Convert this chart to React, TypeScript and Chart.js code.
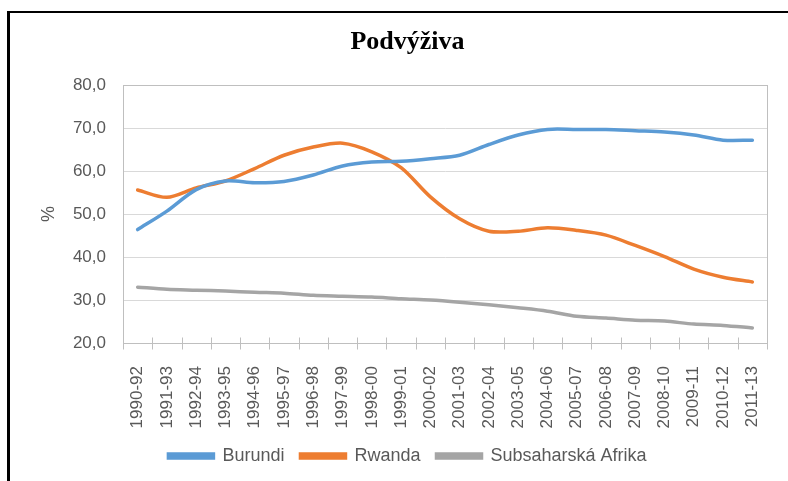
import React, { useEffect, useRef } from "react";
import { Chart, registerables } from "chart.js";

Chart.register(...registerables);

const chartTitle = "Podvýživa";
const yAxisTitle = "%";
const categories = [
  "1990-92", "1991-93", "1992-94", "1993-95", "1994-96", "1995-97", "1996-98",
  "1997-99", "1998-00", "1999-01", "2000-02", "2001-03", "2002-04", "2003-05",
  "2004-06", "2005-07", "2006-08", "2007-09", "2008-10", "2009-11", "2010-12", "2011-13",
];
const seriesNames = ["Burundi", "Rwanda", "Subsaharská Afrika"];
const burundi = [46.4, 50.7, 55.7, 57.7, 57.3, 57.6, 59.1, 61.2, 62.1, 62.3, 62.9, 63.7, 66.2, 68.4, 69.7, 69.7, 69.7, 69.4, 69.1, 68.4, 67.2, 67.2];
const rwanda = [55.6, 53.9, 56.1, 57.7, 60.6, 63.7, 65.6, 66.5, 64.5, 60.8, 54.0, 48.9, 46.0, 46.0, 46.8, 46.2, 45.1, 42.7, 40.1, 37.2, 35.3, 34.2];
const subsaharan = [33.0, 32.5, 32.3, 32.1, 31.8, 31.6, 31.1, 30.9, 30.7, 30.3, 30.0, 29.5, 28.9, 28.2, 27.4, 26.2, 25.8, 25.3, 25.1, 24.4, 24.1, 23.5];
const yMin = 20;
const yMax = 80;
const yStep = 10;

const colors = ["#5B9BD5", "#ED7D31", "#A5A5A5"];
const FONT = "'Liberation Sans', Arial, sans-serif";

const plotFrame = {
  id: "plotFrame",
  beforeDatasetsDraw(chart: any) {
    const { ctx, chartArea } = chart;
    ctx.save();
    ctx.strokeStyle = "#BFBFBF";
    ctx.lineWidth = 1;
    ctx.strokeRect(
      Math.round(chartArea.left) + 0.5,
      Math.round(chartArea.top) + 0.5,
      Math.round(chartArea.right - chartArea.left),
      Math.round(chartArea.bottom - chartArea.top)
    );
    // cross tick marks on category axis
    const xs = chart.scales.x;
    const n = categories.length;
    const step = xs.getPixelForValue(1) - xs.getPixelForValue(0);
    const b = Math.round(chartArea.bottom) + 0.5;
    for (let i = 0; i <= n; i++) {
      const x = i < n ? xs.getPixelForValue(i) - step / 2 : xs.getPixelForValue(n - 1) + step / 2;
      const px = Math.round(x) + 0.5;
      ctx.beginPath();
      ctx.moveTo(px, b - 6);
      ctx.lineTo(px, b + 6);
      ctx.stroke();
    }
    ctx.restore();
  },
};

export default function App() {
  const ref = useRef<HTMLCanvasElement | null>(null);

  useEffect(() => {
    if (!ref.current) return;
    const data = [burundi, rwanda, subsaharan];
    const chart = new Chart(ref.current, {
      type: "line",
      data: {
        labels: categories,
        datasets: seriesNames.map((name, i) => ({
          label: name,
          data: data[i],
          borderColor: colors[i],
          backgroundColor: colors[i],
          borderWidth: 3.5,
          pointRadius: 0,
          tension: 0.3,
          fill: false,
          borderCapStyle: "round" as const,
        })),
      },
      options: {
        responsive: false,
        animation: false,
        devicePixelRatio: 1,
        layout: { padding: { left: 38, right: 11, top: 27, bottom: 6 } },
        plugins: {
          title: {
            display: true,
            text: chartTitle,
            color: "#000000",
            font: { family: "'Liberation Serif', 'Times New Roman', serif", size: 26, weight: "bold" },
            padding: { top: 0, bottom: 27 },
          },
          legend: {
            display: true,
            position: "bottom",
            labels: {
              boxWidth: 45,
              boxHeight: 4,
              padding: 16,
              color: "#595959",
              font: { family: FONT, size: 18 },
            },
          },
          tooltip: { enabled: false },
        },
        scales: {
          x: {
            type: "category",
            offset: true,
            grid: { display: false },
            border: { display: true, color: "#BFBFBF" },
            ticks: {
              minRotation: 90,
              maxRotation: 90,
              autoSkip: false,
              padding: 15,
              color: "#595959",
              font: { family: FONT, size: 17 },
            },
            afterFit(scale: any) {
              scale.height = 88;
            },
          },
          y: {
            min: yMin,
            max: yMax,
            grid: { color: "#D9D9D9", drawTicks: false },
            border: { display: true, color: "#BFBFBF" },
            ticks: {
              stepSize: yStep,
              padding: 17,
              color: "#595959",
              font: { family: FONT, size: 17 },
              callback: (v: any) => Number(v).toFixed(1).replace(".", ","),
            },
            title: {
              display: true,
              text: yAxisTitle,
              color: "#595959",
              font: { family: FONT, size: 18 },
              padding: { top: 0, bottom: 0 },
            },
            afterFit(scale: any) {
              scale.width = 85;
            },
          },
        },
      },
      plugins: [plotFrame],
    });
    return () => chart.destroy();
  }, []);

  return (
    <div style={{ position: "fixed", left: 0, top: 0, width: 788, height: 481, background: "#ffffff", overflow: "hidden" }}>
      <canvas ref={ref} width={788} height={481} style={{ position: "absolute", left: 0, top: 0, width: 788, height: 481 }} />
      <div
        style={{
          position: "absolute",
          left: 7,
          top: 11,
          width: 900,
          height: 600,
          borderLeft: "3px solid #000",
          borderTop: "2px solid #000",
          pointerEvents: "none",
        }}
      />
    </div>
  );
}
